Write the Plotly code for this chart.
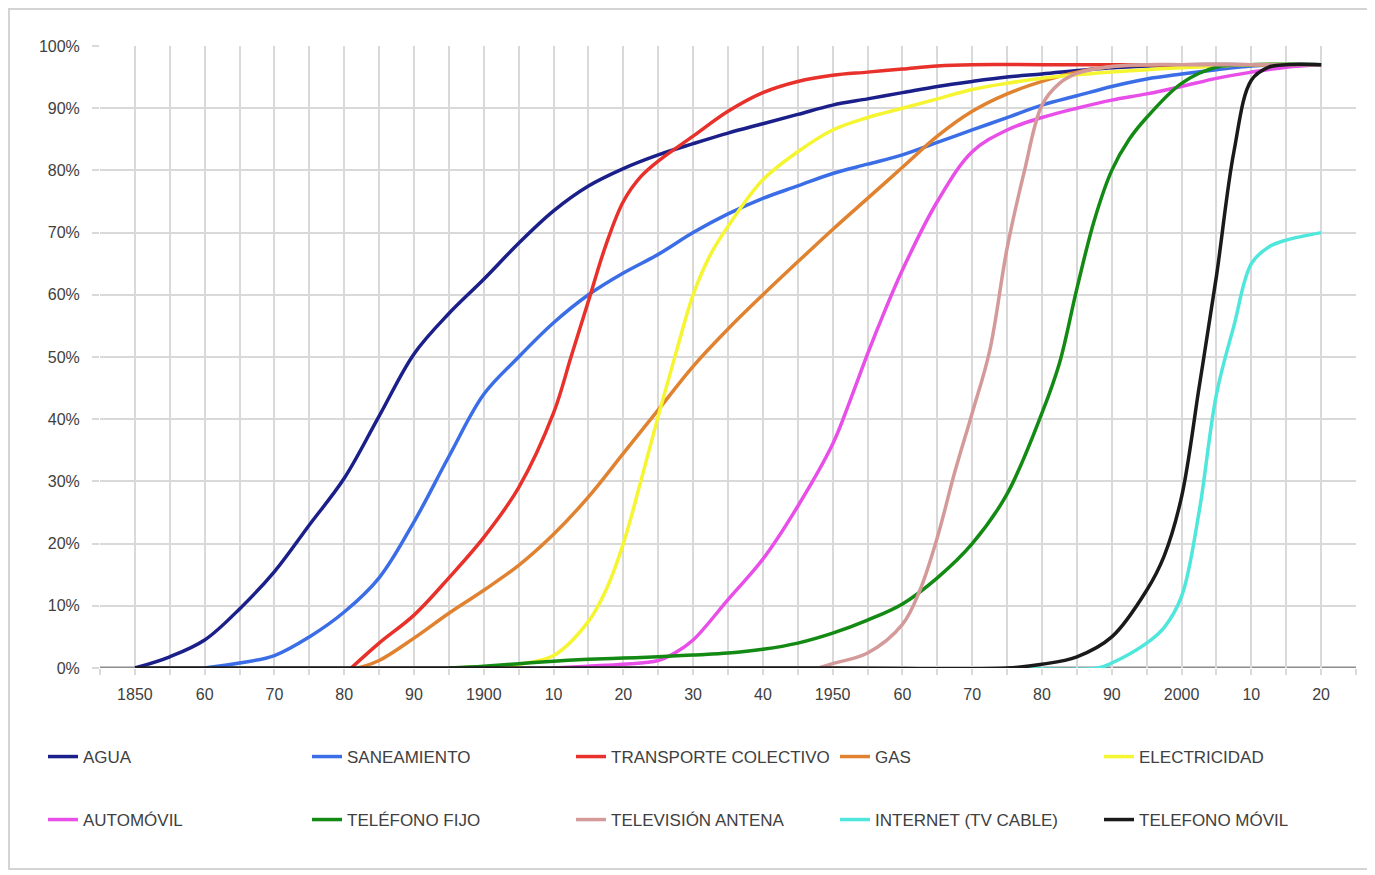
import plotly.graph_objects as go

# ---------------- data (percent of households) ----------------
agua_years = [1850, 1855, 1860, 1865, 1870, 1875, 1880, 1885, 1890, 1895, 1900, 1905, 1910, 1915, 1920,
              1925, 1930, 1935, 1940, 1945, 1950, 1955, 1960, 1965, 1970, 1975, 1980, 1990, 2000, 2010, 2020]
agua_vals = [0, 1.8, 4.5, 9.5, 15.5, 23, 30.5, 40.5, 50.5, 57, 62.5, 68.3, 73.5, 77.5, 80.3,
             82.5, 84.3, 86, 87.5, 89, 90.5, 91.5, 92.5, 93.5, 94.3, 95, 95.5, 96.5, 97, 97, 97]

san_years = [1860, 1865, 1870, 1875, 1880, 1885, 1890, 1895, 1900, 1905, 1910, 1915, 1920, 1925, 1930,
             1935, 1940, 1945, 1950, 1955, 1960, 1965, 1970, 1975, 1980, 1985, 1990, 1995, 2000, 2005,
             2010, 2015, 2020]
san_vals = [0, 0.8, 2, 5, 9, 14.5, 23.5, 34, 44, 50, 55.5, 60, 63.5, 66.5, 70,
            73, 75.5, 77.5, 79.5, 81, 82.5, 84.5, 86.5, 88.5, 90.5, 92, 93.5, 94.7, 95.5, 96.2,
            96.8, 97, 97]

trans_years = [1881, 1885, 1890, 1895, 1900, 1905, 1910, 1912.5, 1915, 1917.5, 1920, 1922.5, 1925, 1930,
               1935, 1940, 1945, 1950, 1955, 1960, 1965, 1970, 1980, 1990, 2000, 2010, 2020]
trans_vals = [0, 4, 8.5, 14.5, 21, 29, 41, 50, 59, 68, 75, 79, 81.5, 85.5,
              89.5, 92.5, 94.3, 95.3, 95.8, 96.3, 96.8, 97, 97, 97, 97, 97, 97]

gas_years = [1882, 1885, 1890, 1895, 1900, 1905, 1910, 1915, 1920, 1925, 1930, 1935, 1940, 1945, 1950,
             1955, 1960, 1965, 1970, 1975, 1980, 1985, 1990, 2000, 2010, 2020]
gas_vals = [0, 1.2, 4.8, 8.8, 12.5, 16.5, 21.5, 27.5, 34.5, 41.5, 48.5, 54.5, 60, 65.3, 70.5,
            75.5, 80.5, 85.5, 89.5, 92.3, 94.3, 95.8, 96.7, 97, 97, 97]

elec_years = [1895, 1900, 1905, 1910, 1915, 1917.5, 1920, 1922.5, 1925, 1927.5, 1930, 1932.5, 1935, 1940,
              1945, 1950, 1955, 1960, 1965, 1970, 1975, 1980, 1990, 2000, 2010, 2020]
elec_vals = [0, 0.2, 0.6, 2, 7.5, 12.5, 20, 30, 40.5, 50.5, 60, 66.5, 71, 78.5,
             83, 86.5, 88.5, 90, 91.5, 93, 94, 94.8, 95.8, 96.5, 97, 97]

auto_years = [1910, 1915, 1920, 1925, 1927.5, 1930, 1935, 1940, 1945, 1950, 1952.5, 1955, 1957.5, 1960,
              1965, 1970, 1975, 1980, 1985, 1990, 1995, 2000, 2005, 2010, 2015, 2020]
auto_vals = [0, 0.3, 0.6, 1.2, 2.5, 4.5, 11, 17.5, 26, 36, 43, 50.5, 57.5, 64,
             75, 83, 86.5, 88.5, 90, 91.3, 92.3, 93.5, 94.8, 95.8, 96.6, 97]

fijo_years = [1895, 1900, 1905, 1910, 1915, 1920, 1925, 1930, 1935, 1940, 1945, 1950, 1955, 1960, 1965,
              1970, 1975, 1980, 1982.5, 1985, 1987.5, 1990, 1992.5, 1995, 2000, 2005, 2010, 2020]
fijo_vals = [0, 0.3, 0.7, 1.1, 1.4, 1.6, 1.8, 2.1, 2.4, 3, 4, 5.6, 7.7, 10.3, 14.5,
             20, 28, 41, 49, 61, 72, 80, 85, 88.5, 94, 96.6, 97, 97]

tv_years = [1948, 1950, 1955, 1960, 1962.5, 1965, 1967.5, 1970, 1972.5, 1975, 1977.5, 1980, 1982.5,
            1985, 1990, 1995, 2000, 2010, 2020]
tv_vals = [0, 0.7, 2.4, 7, 12.5, 21, 31.5, 41, 51, 67.5, 80, 90.5, 94,
           95.6, 96.7, 97, 97, 97, 97]

net_years = [1975, 1988, 1990, 1995, 1997.5, 2000, 2002.5, 2005, 2007.5, 2010, 2012.5, 2015, 2020]
net_vals = [0, 0, 0.8, 4, 6.5, 11.5, 25, 44, 55, 65, 67.7, 68.8, 70]

movil_years = [1850, 1900, 1950, 1975, 1980, 1985, 1990, 1995, 1997.5, 2000, 2002.5, 2005, 2007.5, 2010,
               2012.5, 2015, 2020]
movil_vals = [0, 0, 0, 0, 0.6, 1.8, 5, 12.5, 18, 27.5, 45, 63, 83, 94.5,
              96.6, 97, 97]

series_names = ["AGUA", "SANEAMIENTO", "TRANSPORTE COLECTIVO", "GAS", "ELECTRICIDAD",
                "AUTOMÓVIL", "TELÉFONO FIJO", "TELEVISIÓN ANTENA", "INTERNET (TV CABLE)", "TELEFONO MÓVIL"]
series_years = [agua_years, san_years, trans_years, gas_years, elec_years,
                auto_years, fijo_years, tv_years, net_years, movil_years]
series_vals = [agua_vals, san_vals, trans_vals, gas_vals, elec_vals,
               auto_vals, fijo_vals, tv_vals, net_vals, movil_vals]
series_colors = ["#1b1f8a", "#3b6ee6", "#e8312a", "#e0822f", "#f5f531",
                 "#e84ee8", "#138a13", "#d49a9a", "#4fe6dc", "#1a1a1a"]

tick_years = list(range(1850, 2021, 10))
tick_labels = ["1850", "60", "70", "80", "90", "1900", "10", "20", "30", "40",
               "1950", "60", "70", "80", "90", "2000", "10", "20"]
y_ticks = list(range(0, 101, 10))
y_labels = [f"{v}%" for v in y_ticks]

# ---------------- figure ----------------
FONT = "Liberation Sans, Arial, sans-serif"
TXT = "#404040"
GRID = "#d9d9d9"

fig = go.Figure()
for i, (name, xs, ys, col) in enumerate(zip(series_names, series_years, series_vals, series_colors)):
    fig.add_trace(go.Scatter(
        x=xs, y=ys, name=name, mode="lines",
        line=dict(color=col, width=3.5, shape="spline", smoothing=1.0),
        legend="legend" if i < 5 else "legend2",
        hoverinfo="skip",
    ))

# page has an 8px body margin, so the figure is 8px smaller and margins shifted
OFF = 8
W, H = 1367, 867
L, R, T, B = 92, 19, 38, 207
pw, ph = W - L - R, H - T - B


def px_x(x):  # page x -> paper
    return (x - OFF - L) / pw


def px_y(y):  # page y -> paper
    return (H - B - (y - OFF)) / ph


legend_common = dict(
    orientation="h", entrywidth=219, entrywidthmode="pixels",
    xanchor="left", yanchor="middle",
    font=dict(family=FONT, size=17, color=TXT),
    bgcolor="rgba(0,0,0,0)", borderwidth=0, itemwidth=30,
)

fig.update_layout(
    width=W, height=H,
    margin=dict(l=L, r=R, t=T, b=B),
    paper_bgcolor="white", plot_bgcolor="white",
    font=dict(family=FONT, size=16, color=TXT),
    legend=dict(x=px_x(43), y=px_y(757), **legend_common),
    legend2=dict(x=px_x(43), y=px_y(820), **legend_common),
    xaxis=dict(
        range=[1845, 2025], tickmode="array", tickvals=tick_years, ticktext=tick_labels,
        showgrid=True, gridcolor=GRID, gridwidth=2,
        ticks="outside", ticklen=6, tickcolor=GRID, tickwidth=2,
        minor=dict(dtick=5, tick0=1845, showgrid=True, gridcolor=GRID, gridwidth=2,
                   ticks="outside", ticklen=6, tickcolor=GRID, tickwidth=2),
        showline=False, zeroline=False,
        ticklabelstandoff=6,
        tickfont=dict(family=FONT, size=16, color=TXT),
    ),
    yaxis=dict(
        range=[0, 100], tickmode="array", tickvals=y_ticks, ticktext=y_labels,
        showgrid=True, gridcolor=GRID, gridwidth=2,
        ticks="outside", ticklen=7, tickcolor=GRID, tickwidth=2,
        showline=False, zeroline=False,
        ticklabelstandoff=9,
        tickfont=dict(family=FONT, size=16, color=TXT),
    ),
    shapes=[
        dict(type="line", xref="x", yref="y", x0=1845, x1=2025, y0=0, y1=0,
             line=dict(color="#8c8c8c", width=3), layer="below"),
        dict(type="rect", xref="paper", yref="paper",
             x0=px_x(9), x1=px_x(1369), y0=px_y(869), y1=px_y(9),
             line=dict(color="#d4d4d4", width=2), fillcolor="rgba(0,0,0,0)", layer="below"),
    ],
)

fig.write_html("out.html", config={"displayModeBar": False})
